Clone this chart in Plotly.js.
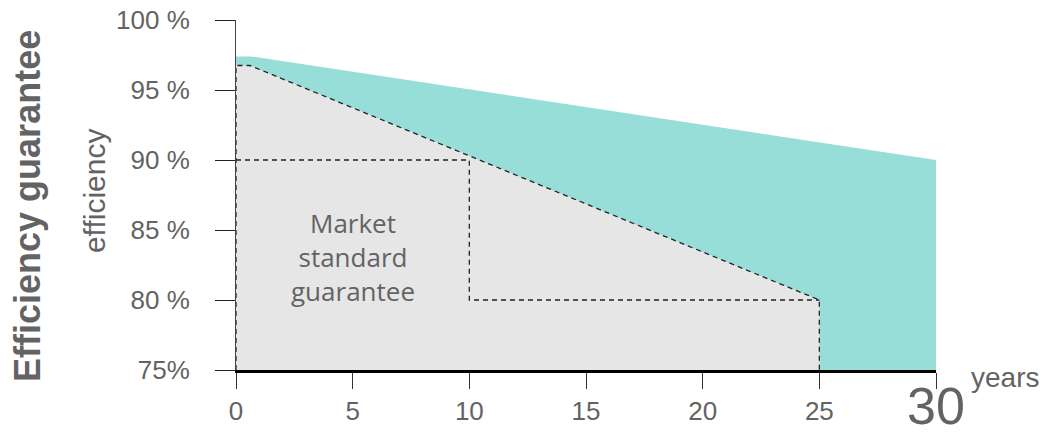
<!DOCTYPE html>
<html>
<head>
<meta charset="utf-8">
<script src="https://cdn.plot.ly/plotly-3.0.1.min.js"></script>
<style>html,body{margin:0;padding:0;background:#fff;}#chart{width:1051px;height:438px;}</style>
</head>
<body>
<div id="chart"></div>
<script>
// Data
const ourYears = [0, 0.65, 30];
const ourValues = [97.4, 97.4, 90];
const marketYears = [0, 0.6, 25];
const marketValues = [96.75, 96.75, 80];
const stepYears = [0, 10, 10, 25];
const stepValues = [90, 90, 80, 80];
const xTickVals = [0, 5, 10, 15, 20, 25, 30];
const xTickText = ['0', '5', '10', '15', '20', '25', ''];
const yTickVals = [75, 80, 85, 90, 95, 100];
const yTickText = ['75%', '80 %', '85 %', '90 %', '95 %', '100 %'];
const marketLabel = 'Market<br>standard<br>guarantee';
const baseline = 75;

const teal = '#97DED9';
const grey = '#E6E6E6';
const txt = '#636363';

const traces = [
  {x: ourYears, y: ourValues, type: 'scatter', mode: 'lines', fill: 'tozeroy',
   fillcolor: teal, line: {width: 0, color: teal}, hoverinfo: 'skip'},
  {x: marketYears, y: marketValues, type: 'scatter', mode: 'lines', fill: 'tozeroy',
   fillcolor: grey, line: {width: 0, color: grey}, hoverinfo: 'skip'},
  {x: [marketYears[0]].concat(marketYears, [marketYears[marketYears.length - 1]]),
   y: [baseline].concat(marketValues, [baseline]),
   type: 'scatter', mode: 'lines', line: {color: '#222', width: 1.3, dash: '5px,4px'}, hoverinfo: 'skip'},
  {x: stepYears, y: stepValues, type: 'scatter', mode: 'lines',
   line: {color: '#222', width: 1.3, dash: '5px,4px'}, hoverinfo: 'skip'}
];

const annotations = [
  {x: 5, y: 83.1, xref: 'x', yref: 'y', text: marketLabel, showarrow: false,
   xanchor: 'center', yanchor: 'middle',
   font: {family: 'Open Sans, sans-serif', size: 26, color: txt}},
  {x: 30, xref: 'x', y: -0.1029, yref: 'paper', text: '30', showarrow: false,
   xanchor: 'center', yanchor: 'middle',
   font: {size: 52, color: txt}},
  {x: 1.0986, xref: 'paper', y: -0.02, yref: 'paper', text: 'years', showarrow: false,
   xanchor: 'center', yanchor: 'middle', font: {size: 28, color: txt}},
  {x: -0.2029, xref: 'paper', y: 0.514, yref: 'paper', text: 'efficiency', textangle: -90,
   xanchor: 'center', yanchor: 'middle', showarrow: false, font: {size: 30, color: txt}},
  {x: -0.297, xref: 'paper', y: 0.469, yref: 'paper', text: '<b>Efficiency guarantee</b>', textangle: -90,
   xanchor: 'center', yanchor: 'middle', showarrow: false, font: {size: 36, color: txt}}
];

const layout = {
  width: 1051, height: 438,
  margin: {l: 236, r: 115, t: 20, b: 68},
  paper_bgcolor: '#fff', plot_bgcolor: '#fff',
  showlegend: false,
  font: {family: 'Liberation Sans, Arial, sans-serif', color: txt},
  xaxis: {
    range: [0, 30], showgrid: false, zeroline: false,
    showline: true, linecolor: '#000', linewidth: 2.5,
    ticks: 'outside', ticklen: 16, tickcolor: '#333', tickwidth: 1,
    tickvals: xTickVals, ticktext: xTickText,
    tickfont: {size: 26, color: txt, family: 'Liberation Sans, Arial, sans-serif'},
    fixedrange: true
  },
  yaxis: {
    range: [75, 100], showgrid: false, zeroline: false,
    showline: true, linecolor: '#444', linewidth: 1,
    ticks: 'outside', ticklen: 20, tickcolor: '#222', tickwidth: 1,
    tickvals: yTickVals, ticktext: yTickText,
    ticklabelstandoff: 20,
    tickfont: {size: 26, color: txt, family: 'Liberation Sans, Arial, sans-serif'},
    fixedrange: true
  },
  annotations: annotations
};

Plotly.newPlot('chart', traces, layout, {displayModeBar: false, staticPlot: true});
</script>
</body>
</html>
